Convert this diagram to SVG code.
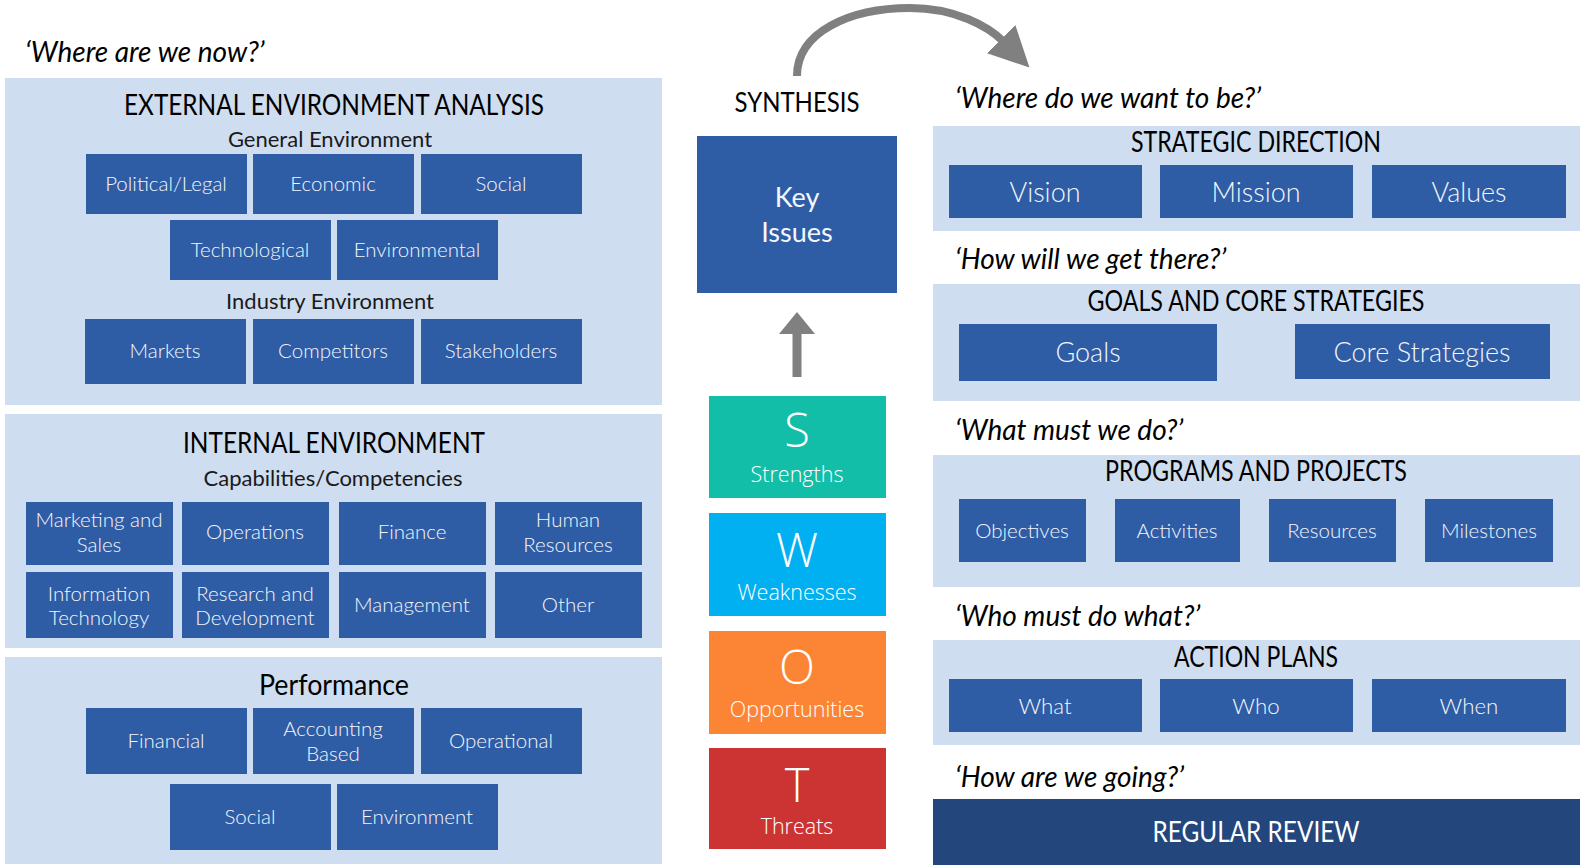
<svg xmlns="http://www.w3.org/2000/svg" width="1580" height="865" viewBox="0 0 1580 865">
<style>
.panel{fill:#CFDDF0}
.box{fill:#2E5DA6}
.q{font-family:Lato,"Liberation Sans",sans-serif;font-style:italic;font-size:28px;fill:#000}
.t{font-family:Lato,"Liberation Sans",sans-serif;font-size:28px;fill:#000;text-anchor:middle}
.st{font-family:Lato,"Liberation Sans",sans-serif;font-size:22px;fill:#1a1a1a;text-anchor:middle}
.bl{font-family:Lato,"Liberation Sans",sans-serif;font-weight:300;font-size:20.5px;fill:#F4F6FA;text-anchor:middle}
.bb{font-family:Lato,"Liberation Sans",sans-serif;font-weight:300;font-size:27px;fill:#F4F6FA;text-anchor:middle}
.sw{font-family:"Open Sans","Liberation Sans",sans-serif;font-weight:300;fill:#fff;text-anchor:middle}
.big{font-size:47px}
.sm{font-size:21.5px}
</style>
<defs>
<marker id="ah" viewBox="0 0 10 10" refX="1" refY="5" markerWidth="5" markerHeight="5" orient="auto" markerUnits="strokeWidth">
<path d="M0,0 L10,5 L0,10 Z" fill="#808080"/>
</marker>
</defs>

<g id="connectors">
<path d="M797,76 C797,32 850,8 910,8 C955,8 988,26 1004,42" fill="none" stroke="#808080" stroke-width="8" marker-end="url(#ah)"/>
<path d="M797,377 L797,330" fill="none" stroke="#808080" stroke-width="9"/>
<polygon points="779,334 815,334 797,312" fill="#808080"/>
</g>

<text class="q" x="25" y="62">‘Where are we now?’</text>

<g id="external">
<rect class="panel" x="5" y="78" width="657" height="327"/>
<text class="t" x="334" y="115" textLength="420" lengthAdjust="spacingAndGlyphs">EXTERNAL ENVIRONMENT ANALYSIS</text>
<text class="st" x="330" y="147">General Environment</text>
<g id="political"><rect class="box" x="86" y="154" width="161" height="60"/><text class="bl" x="166" y="191">Political/Legal</text></g>
<g id="economic"><rect class="box" x="253" y="154" width="161" height="60"/><text class="bl" x="333" y="191">Economic</text></g>
<g id="social1"><rect class="box" x="421" y="154" width="161" height="60"/><text class="bl" x="501" y="191">Social</text></g>
<g id="technological"><rect class="box" x="170" y="220" width="161" height="60"/><text class="bl" x="250" y="257">Technological</text></g>
<g id="environmental"><rect class="box" x="337" y="220" width="161" height="60"/><text class="bl" x="417" y="257">Environmental</text></g>
<text class="st" x="330" y="309">Industry Environment</text>
<g id="markets"><rect class="box" x="85" y="319" width="161" height="65"/><text class="bl" x="165" y="358">Markets</text></g>
<g id="competitors"><rect class="box" x="253" y="319" width="161" height="65"/><text class="bl" x="333" y="358">Competitors</text></g>
<g id="stakeholders"><rect class="box" x="421" y="319" width="161" height="65"/><text class="bl" x="501" y="358">Stakeholders</text></g>
</g>

<g id="internal">
<rect class="panel" x="5" y="414" width="657" height="234"/>
<text class="t" x="334" y="453" textLength="302" lengthAdjust="spacingAndGlyphs">INTERNAL ENVIRONMENT</text>
<text class="st" x="333" y="486">Capabilities/Competencies</text>
<g id="marketing"><rect class="box" x="26" y="502" width="147" height="63"/><text class="bl" x="99" y="527">Marketing and</text><text class="bl" x="99" y="552">Sales</text></g>
<g id="operations"><rect class="box" x="182" y="502" width="147" height="63"/><text class="bl" x="255" y="539">Operations</text></g>
<g id="finance"><rect class="box" x="339" y="502" width="147" height="63"/><text class="bl" x="412" y="539">Finance</text></g>
<g id="hr"><rect class="box" x="495" y="502" width="147" height="63"/><text class="bl" x="568" y="527">Human</text><text class="bl" x="568" y="552">Resources</text></g>
<g id="it"><rect class="box" x="26" y="572" width="147" height="66"/><text class="bl" x="99" y="601">Information</text><text class="bl" x="99" y="625">Technology</text></g>
<g id="rnd"><rect class="box" x="182" y="572" width="147" height="66"/><text class="bl" x="255" y="601">Research and</text><text class="bl" x="255" y="625">Development</text></g>
<g id="management"><rect class="box" x="339" y="572" width="147" height="66"/><text class="bl" x="412" y="612">Management</text></g>
<g id="other"><rect class="box" x="495" y="572" width="147" height="66"/><text class="bl" x="568" y="612">Other</text></g>
</g>

<g id="performance">
<rect class="panel" x="5" y="657" width="657" height="207"/>
<text class="t" x="334" y="695" textLength="150" lengthAdjust="spacingAndGlyphs">Performance</text>
<g id="financial"><rect class="box" x="86" y="708" width="161" height="66"/><text class="bl" x="166" y="748">Financial</text></g>
<g id="accounting"><rect class="box" x="253" y="708" width="161" height="66"/><text class="bl" x="333" y="736">Accounting</text><text class="bl" x="333" y="761">Based</text></g>
<g id="operational"><rect class="box" x="421" y="708" width="161" height="66"/><text class="bl" x="501" y="748">Operational</text></g>
<g id="social2"><rect class="box" x="170" y="784" width="161" height="66"/><text class="bl" x="250" y="824">Social</text></g>
<g id="environment"><rect class="box" x="337" y="784" width="161" height="66"/><text class="bl" x="417" y="824">Environment</text></g>
</g>

<g id="synthesis">
<text class="t" x="797" y="112" style="font-size:26px" textLength="125" lengthAdjust="spacingAndGlyphs">SYNTHESIS</text>
<g id="keyissues"><rect class="box" x="697" y="136" width="200" height="157"/><text class="bb" x="797" y="207" style="font-weight:400">Key</text><text class="bb" x="797" y="242" style="font-weight:400">Issues</text></g>
</g>

<g id="swot-s"><rect x="709" y="396" width="177" height="102" fill="#12BEA8"/><text class="sw big" x="797" y="447">S</text><text class="sw sm" x="797" y="482">Strengths</text></g>
<g id="swot-w"><rect x="709" y="513" width="177" height="103" fill="#00B0F0"/><text class="sw big" x="797" y="567">W</text><text class="sw sm" x="797" y="600">Weaknesses</text></g>
<g id="swot-o"><rect x="709" y="631" width="177" height="103" fill="#FC8435"/><text class="sw big" x="797" y="684">O</text><text class="sw sm" x="797" y="717">Opportunities</text></g>
<g id="swot-t"><rect x="709" y="748" width="177" height="101" fill="#CC3333"/><text class="sw big" x="797" y="802">T</text><text class="sw sm" x="797" y="834">Threats</text></g>

<text class="q" x="955" y="108">‘Where do we want to be?’</text>
<g id="strategic">
<rect class="panel" x="933" y="126" width="647" height="105"/>
<text class="t" x="1256" y="152" textLength="250" lengthAdjust="spacingAndGlyphs">STRATEGIC DIRECTION</text>
<g id="vision"><rect class="box" x="949" y="165" width="193" height="53"/><text class="bb" x="1045" y="202">Vision</text></g>
<g id="mission"><rect class="box" x="1160" y="165" width="193" height="53"/><text class="bb" x="1256" y="202">Mission</text></g>
<g id="values"><rect class="box" x="1372" y="165" width="194" height="53"/><text class="bb" x="1469" y="202">Values</text></g>
</g>

<text class="q" x="955" y="269">‘How will we get there?’</text>
<g id="goalsstrat">
<rect class="panel" x="933" y="284" width="647" height="117"/>
<text class="t" x="1256" y="311" textLength="337" lengthAdjust="spacingAndGlyphs">GOALS AND CORE STRATEGIES</text>
<g id="goals"><rect class="box" x="959" y="324" width="258" height="57"/><text class="bb" x="1088" y="362">Goals</text></g>
<g id="core"><rect class="box" x="1295" y="324" width="255" height="55"/><text class="bb" x="1422" y="362">Core Strategies</text></g>
</g>

<text class="q" x="955" y="440">‘What must we do?’</text>
<g id="programs">
<rect class="panel" x="933" y="455" width="647" height="132"/>
<text class="t" x="1256" y="481" textLength="302" lengthAdjust="spacingAndGlyphs">PROGRAMS AND PROJECTS</text>
<g id="objectives"><rect class="box" x="959" y="499" width="127" height="63"/><text class="bl" x="1022" y="538">Objectives</text></g>
<g id="activities"><rect class="box" x="1115" y="499" width="125" height="63"/><text class="bl" x="1177" y="538">Activities</text></g>
<g id="resources"><rect class="box" x="1269" y="499" width="127" height="63"/><text class="bl" x="1332" y="538">Resources</text></g>
<g id="milestones"><rect class="box" x="1425" y="499" width="128" height="63"/><text class="bl" x="1489" y="538">Milestones</text></g>
</g>

<text class="q" x="955" y="626">‘Who must do what?’</text>
<g id="actionplans">
<rect class="panel" x="933" y="640" width="647" height="105"/>
<text class="t" x="1256" y="667" textLength="164" lengthAdjust="spacingAndGlyphs">ACTION PLANS</text>
<g id="what"><rect class="box" x="949" y="679" width="193" height="53"/><text class="bl" x="1045" y="714" style="font-size:22.3px">What</text></g>
<g id="who"><rect class="box" x="1160" y="679" width="193" height="53"/><text class="bl" x="1256" y="714" style="font-size:22.3px">Who</text></g>
<g id="when"><rect class="box" x="1372" y="679" width="194" height="53"/><text class="bl" x="1469" y="714" style="font-size:22.3px">When</text></g>
</g>

<text class="q" x="955" y="787">‘How are we going?’</text>
<g id="review">
<rect x="933" y="799" width="647" height="66" fill="#23467D"/>
<text class="t" x="1256" y="842" style="fill:#fff" textLength="207" lengthAdjust="spacingAndGlyphs">REGULAR REVIEW</text>
</g>
</svg>
